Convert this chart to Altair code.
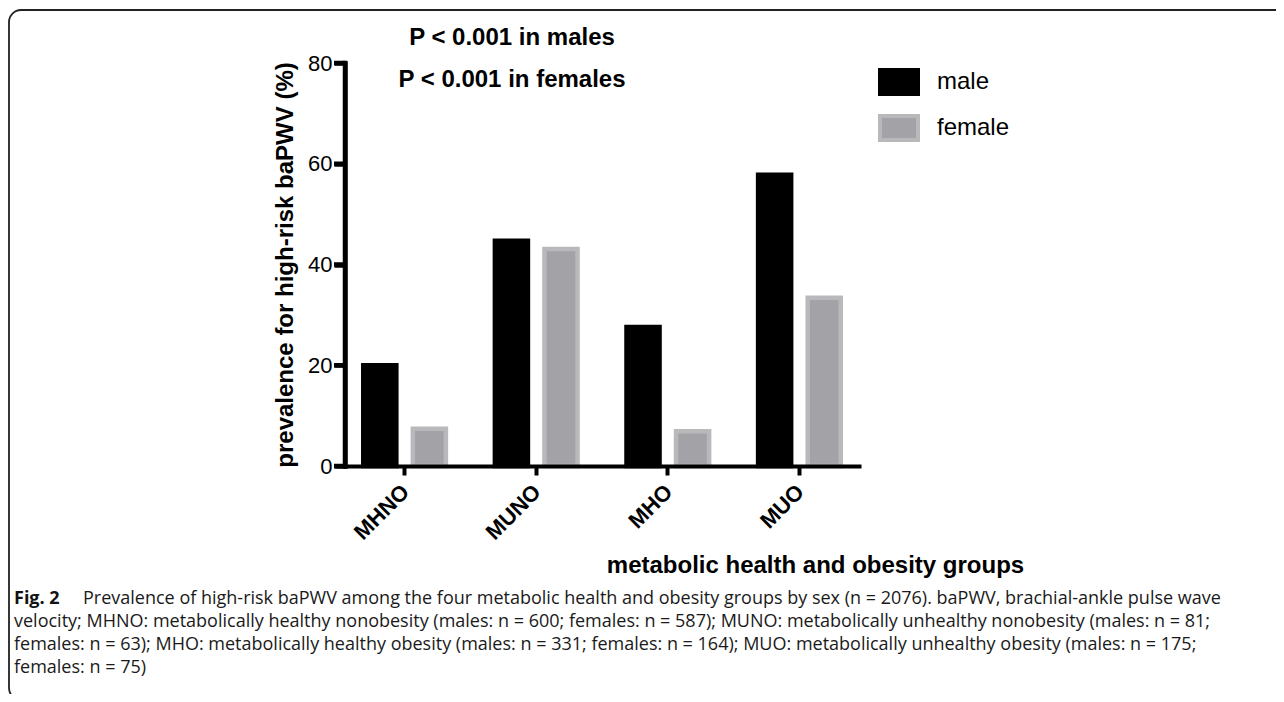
import altair as alt
import pandas as pd

groups = ["MHNO", "MUNO", "MHO", "MUO"]
sexes = ["male", "female"]
male_vals = [20.0, 44.7, 27.6, 57.8]
female_vals = [7.4, 43.1, 6.9, 33.4]
y_ticks = [0, 20, 40, 60, 80]

annot_lines = ["P < 0.001 in males", "P < 0.001 in females"]
caption_bold = "Fig. 2"
caption_lines = [
    "Prevalence of high-risk baPWV among the four metabolic health and obesity groups by sex (n = 2076). baPWV, brachial-ankle pulse wave",
    "velocity; MHNO: metabolically healthy nonobesity (males: n = 600; females: n = 587); MUNO: metabolically unhealthy nonobesity (males: n = 81;",
    "females: n = 63); MHO: metabolically healthy obesity (males: n = 331; females: n = 164); MUO: metabolically unhealthy obesity (males: n = 175;",
    "females: n = 75)",
]

rows = []
for g, m, f in zip(groups, male_vals, female_vals):
    rows.append({"group": g, "sex": "male", "value": m})
    rows.append({"group": g, "sex": "female", "value": f})
df = pd.DataFrame(rows)

FONT = "Liberation Sans"
W, H = 514, 403
SYM = "M-1,-0.63L1,-0.63L1,0.63L-1,0.63Z"
yscale = alt.Scale(domain=[0, 80], nice=False)

legend_kw = dict(title=None, orient="none", legendX=533, legendY=-2,
                 symbolType=SYM, symbolSize=1444, symbolStrokeWidth=4,
                 labelFont=FONT, labelFontSize=24, labelColor="black",
                 labelOffset=17, rowPadding=5, padding=0)

bars = alt.Chart(df).mark_bar(strokeWidth=4.5).encode(
    x=alt.X("group:N", sort=groups,
            scale=alt.Scale(paddingInner=0.338, paddingOuter=0.1217),
            axis=alt.Axis(title="metabolic health and obesity groups",
                          labelAngle=-45, labelFontSize=22,
                          labelFontWeight="bold", labelPadding=6, labelOffset=-6,
                          tickSize=9, titleX=470, titleY=106,
                          titleAlign="center", titleBaseline="alphabetic",
                          zindex=2)),
    xOffset=alt.XOffset("sex:N", sort=sexes,
                        scale=alt.Scale(paddingInner=0.3333, paddingOuter=0.04545)),
    y=alt.Y("value:Q", scale=yscale,
            axis=alt.Axis(title="prevalence for high-risk baPWV (%)",
                          values=y_ticks, labelFontSize=22,
                          labelPadding=2, tickSize=11, titlePadding=10,
                          domainWidth=4.5, tickWidth=4.5, domainColor="black",
                          tickColor="black", zindex=2)),
    fill=alt.Fill("sex:N", sort=sexes,
                  scale=alt.Scale(domain=sexes, range=["#000000", "#a3a2a7"]),
                  legend=alt.Legend(**legend_kw)),
    stroke=alt.Stroke("sex:N", sort=sexes,
                      scale=alt.Scale(domain=sexes, range=["#000000", "#b9b9bb"]),
                      legend=alt.Legend(**legend_kw)),
)

# reinforce the thick y axis line and its ticks
y_domain_line = alt.Chart(pd.DataFrame({"d": [1]})).mark_rule(
    color="black", strokeWidth=4.5, strokeCap="square"
).encode(x=alt.value(0), y=alt.value(0), y2=alt.value(H))

y_tick_rules = alt.Chart(pd.DataFrame({"v": y_ticks})).mark_rule(
    color="black", strokeWidth=4.5
).encode(y=alt.Y("v:Q", scale=yscale), x=alt.value(-11), x2=alt.value(0))

annots = []
for i, line in enumerate(annot_lines):
    annots.append(
        alt.Chart(pd.DataFrame({"t": [line]})).mark_text(
            font=FONT, fontSize=24, fontWeight="bold", color="black",
            align="center", baseline="middle"
        ).encode(text="t:N", x=alt.value(167), y=alt.value([-25, 17][i]))
    )

CAP_FONT = "Open Sans"
cap_x = [83, 14, 14, 14]
cap_y = [536, 559, 582, 605]
cap_layers = [
    alt.Chart(pd.DataFrame({"t": [caption_bold]})).mark_text(
        font=CAP_FONT, fontSize=18, fontWeight="bold", color="#111111",
        align="left", baseline="middle"
    ).encode(text="t:N", x=alt.value(14 - 345), y=alt.value(cap_y[0]))
]
for i, line in enumerate(caption_lines):
    cap_layers.append(
        alt.Chart(pd.DataFrame({"t": [line]})).mark_text(
            font=CAP_FONT, fontSize=18, color="#1a1a1a",
            align="left", baseline="middle"
        ).encode(text="t:N", x=alt.value(cap_x[i] - 345), y=alt.value(cap_y[i]))
    )

frame = alt.Chart(pd.DataFrame({"f": [1]})).mark_rect(
    fill="transparent", stroke="#222222", strokeWidth=1.8, cornerRadius=12
).encode(x=alt.value(9 - 345), x2=alt.value(1400), y=alt.value(10 - 63), y2=alt.value(700 - 63))

chart = alt.layer(frame, bars, y_domain_line, y_tick_rules, *annots, *cap_layers).properties(
    width=W, height=H,
    autosize=alt.AutoSizeParams(type="none"),
    padding={"left": 337, "top": 55, "right": 417, "bottom": 228},
).configure(background="white").configure_view(stroke=None).configure_axis(
    grid=False,
    domainWidth=4, domainColor="black", domainCap="square",
    tickWidth=4, tickColor="black",
    labelFont=FONT, labelColor="black",
    titleFont=FONT, titleFontSize=24, titleFontWeight="bold", titleColor="black",
)

chart.save("out.html", embed_options={"renderer": "svg", "actions": False})
